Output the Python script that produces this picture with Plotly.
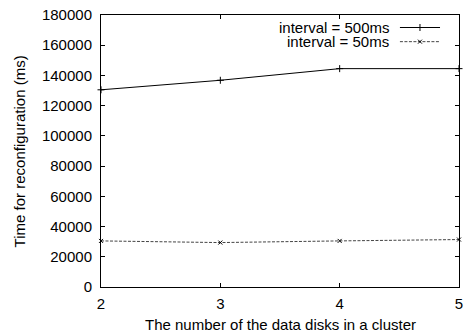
import plotly.graph_objects as go

disks = [2, 3, 4, 5]
t_500ms = [130500, 136800, 144500, 144500]
t_50ms = [30500, 29400, 30500, 31400]
series_names = ["interval = 500ms", "interval = 50ms"]
y_ticks = [0, 20000, 40000, 60000, 80000, 100000, 120000, 140000, 160000, 180000]

FONT = "Liberation Sans, Arial, sans-serif"
fig = go.Figure()

line_500 = dict(color="black", width=1)
mark_500 = dict(symbol="cross-thin", size=5, line=dict(color="black", width=1))
line_50 = dict(color="#444444", width=1, dash="3px,1.5px")
mark_50 = dict(symbol="x-thin", size=4, line=dict(color="black", width=1))

fig.add_trace(go.Scatter(x=disks, y=t_500ms, mode="lines+markers", name=series_names[0],
                         line=line_500, marker=mark_500, showlegend=False, cliponaxis=False))
fig.add_trace(go.Scatter(x=disks, y=t_50ms, mode="lines+markers", name=series_names[1],
                         line=line_50, marker=mark_50, showlegend=False, cliponaxis=False))

# legend samples (decoration) on an overlay axis in [0,1]
leg_y = [0.954, 0.902]
for (ln, mk), yy, nm in zip([(line_500, mark_500), (line_50, mark_50)], leg_y, series_names):
    fig.add_trace(go.Scatter(x=[0.835, 0.947], y=[yy, yy], mode="lines", line=ln,
                             xaxis="x2", yaxis="y2", showlegend=False, hoverinfo="skip"))
    fig.add_trace(go.Scatter(x=[0.891], y=[yy], mode="markers", marker=mk,
                             xaxis="x2", yaxis="y2", showlegend=False, hoverinfo="skip"))
    fig.add_annotation(x=0.806, y=yy, xref="paper", yref="paper", text=nm,
                       showarrow=False, xanchor="right", yanchor="middle", borderpad=0,
                       font=dict(family=FONT, size=15, color="black"))

# axis titles as annotations for exact placement
fig.add_annotation(x=0.5, y=-0.139, xref="paper", yref="paper",
                   text="The number of the data disks in a cluster", showarrow=False,
                   xanchor="center", yanchor="middle", font=dict(family=FONT, size=15, color="black"))
fig.add_annotation(x=-0.228, y=0.5, xref="paper", yref="paper", textangle=-90,
                   text="Time for reconfiguration (ms)", showarrow=False,
                   xanchor="center", yanchor="middle", font=dict(family=FONT, size=15, color="black"))

axis_common = dict(showgrid=False, zeroline=False, showline=True, linecolor="black",
                   linewidth=1, mirror="allticks", ticks="inside", ticklen=4,
                   tickcolor="black", automargin=False, ticklabeloverflow="allow",
                   tickfont=dict(family=FONT, size=15, color="black"))

fig.update_layout(
    width=464, height=336,
    margin=dict(l=101, r=5, t=15, b=49),
    paper_bgcolor="white", plot_bgcolor="white",
    font=dict(family=FONT, size=15, color="black"),
    xaxis=dict(range=[2, 5], tickvals=disks, ticklabelstandoff=3, **axis_common),
    yaxis=dict(range=[0, 180000], tickvals=y_ticks, ticktext=[str(v) for v in y_ticks],
               ticklabelstandoff=5, **axis_common),
    xaxis2=dict(range=[0, 1], overlaying="x", visible=False, fixedrange=True),
    yaxis2=dict(range=[0, 1], overlaying="y", visible=False, fixedrange=True),
)

fig.write_html("out.html", config={"displayModeBar": False},
               post_script="document.body.style.margin='0';")
